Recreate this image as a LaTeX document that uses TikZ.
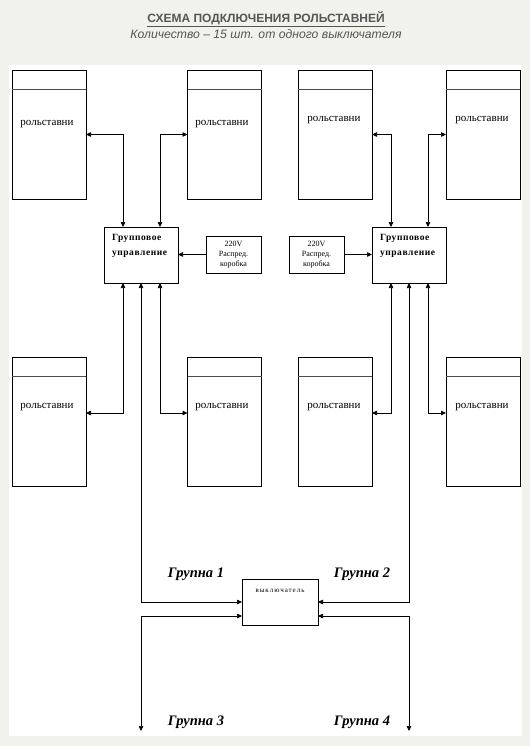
\documentclass[tikz,border=0pt]{standalone}
\usepackage{fontspec}
\setmainfont{Liberation Serif}
\newfontfamily\titlefont{Liberation Sans}
\newfontfamily\widefont[LetterSpace=14]{Liberation Serif}
\newfontfamily\grpfont[LetterSpace=6]{Liberation Serif}
\usetikzlibrary{arrows.meta}
\definecolor{pagebg}{HTML}{F2F2EC}
\definecolor{titlegray}{HTML}{555555}
\begin{document}
\begin{tikzpicture}[x=1pt,y=-1pt,
  every node/.style={inner sep=0pt,outer sep=0pt},
  rbox/.style={draw,line width=0.8pt,minimum width=74pt,minimum height=129pt},
  gbox/.style={draw,line width=0.8pt,minimum width=74pt,minimum height=56pt},
  pbox/.style={draw,line width=0.8pt,minimum width=55pt,minimum height=37pt},
  swbox/.style={draw,line width=0.8pt,minimum width=76pt,minimum height=46pt},
  rtext/.style={font=\fontsize{11}{12}\selectfont},
  gtext/.style={font=\grpfont\fontsize{9.5}{15}\selectfont\bfseries,align=left,anchor=north west},
  ptext/.style={font=\fontsize{8}{10}\selectfont,align=center},
  grp/.style={font=\fontsize{14.5}{16}\selectfont\bfseries\itshape},
  conn/.style={line width=0.7pt,{Triangle[length=5pt,width=4.5pt]}-{Triangle[length=5pt,width=4.5pt]}},
  oneway/.style={line width=0.7pt,-{Triangle[length=5pt,width=4.5pt]}},
  hdr/.style={line width=0.8pt,black!70}
]
\useasboundingbox (0,0) rectangle (530,746);
\fill[pagebg] (0,0) rectangle (530,746);
\fill[white] (9,65) rectangle (522,736);

% title
\node[font=\titlefont\fontsize{12}{14}\selectfont\bfseries,text=titlegray] (title) at (266,19) {\underline{СХЕМА ПОДКЛЮЧЕНИЯ РОЛЬСТАВНЕЙ}};
\node[font=\titlefont\fontsize{12.2}{14}\selectfont\itshape,text=titlegray] (sub) at (266,34) {Количество – 15 шт. от одного выключателя};

% shutter boxes
\node[rbox] (r1) at (49,134.5) {};
\node[rbox] (r2) at (224.5,134.5) {};
\node[rbox] (r3) at (335,134.5) {};
\node[rbox] (r4) at (483,134.5) {};
\node[rbox] (r5) at (49,422) {};
\node[rbox] (r6) at (224.5,422) {};
\node[rbox] (r7) at (335,422) {};
\node[rbox] (r8) at (483,422) {};
\foreach \r in {r1,r2,r3,r4,r5,r6,r7,r8}{
  \draw[hdr] ([yshift=-19pt]\r.north west) -- ([yshift=-19pt]\r.north east);
}
\node[rtext] (t1) at (47,124) {рольставни};
\node[rtext] (t2) at (222,124) {рольставни};
\node[rtext] (t3) at (334,120) {рольставни};
\node[rtext] (t4) at (482,120) {рольставни};
\node[rtext] (t5) at (47,407) {рольставни};
\node[rtext] (t6) at (222,407) {рольставни};
\node[rtext] (t7) at (334,407) {рольставни};
\node[rtext] (t8) at (482,407) {рольставни};

% group controls
\node[gbox] (g1) at (141,255) {};
\node[gbox] (g2) at (409,255) {};
\node[gtext] (gt1) at (112,234) {Групповое\\управление};
\node[gtext] (gt2) at (380,234) {Групповое\\управление};

% power boxes
\node[pbox] (p1) at (233.5,254.5) {};
\node[pbox] (p2) at (316.5,254.5) {};
\node[ptext] (pt1) at (233.5,254.5) {220V\\Распред.\\коробка};
\node[ptext] (pt2) at (316.5,254.5) {220V\\Распред.\\коробка};

% switch
\node[swbox] (sw) at (280,602) {};
\node[font=\widefont\fontsize{7}{8}\selectfont] (swt) at (280,591) {выключатель};

% connectors top
\draw[conn] (r1.east) -| ([xshift=-18pt]g1.north);
\draw[conn] (r2.west) -| ([xshift=19pt]g1.north);
\draw[conn] (r3.east) -| ([xshift=-18pt]g2.north);
\draw[conn] (r4.west) -| ([xshift=19pt]g2.north);
% connectors bottom
\draw[conn] ([yshift=9pt]r5.east) -| ([xshift=-18pt]g1.south);
\draw[conn] ([yshift=9pt]r6.west) -| ([xshift=19pt]g1.south);
\draw[conn] ([yshift=9pt]r7.east) -| ([xshift=-18pt]g2.south);
\draw[conn] ([yshift=9pt]r8.west) -| ([xshift=19pt]g2.south);
% power
\draw[oneway] (p1.west) -- (p1.west -| g1.east);
\draw[oneway] (p2.east) -- (p2.east -| g2.west);

% groups to switch
\coordinate (c3) at (141,731);
\coordinate (c4) at (409,731);
\draw[conn] (g1.south) |- (sw.west);
\draw[conn] (g2.south) |- (sw.east);
\draw[conn] ([yshift=-14pt]sw.west) -| (c3);
\draw[conn] ([yshift=-14pt]sw.east) -| (c4);

\node[grp] (l1) at (196,574) {Групна 1};
\node[grp] (l2) at (362,574) {Групна 2};
\node[grp] (l3) at (196,722) {Групна 3};
\node[grp] (l4) at (362,722) {Групна 4};
\end{tikzpicture}
\end{document}
